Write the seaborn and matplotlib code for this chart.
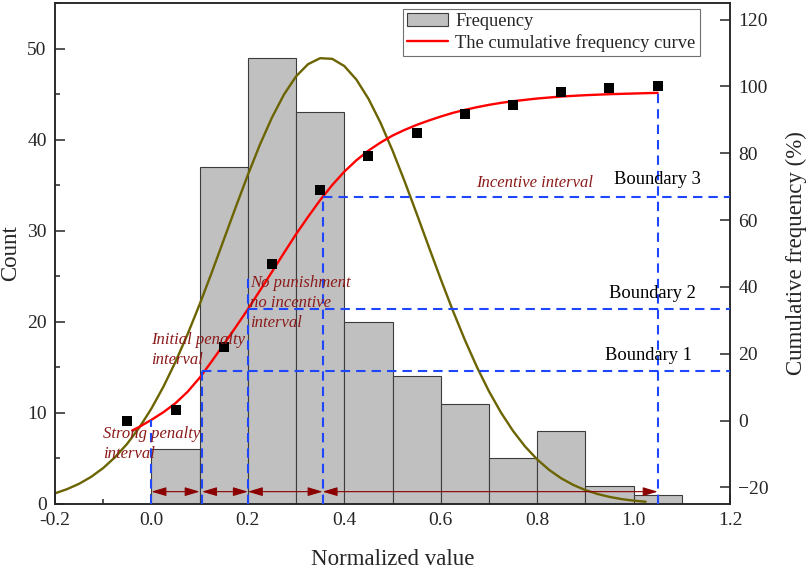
import numpy as np
import pandas as pd
import matplotlib
matplotlib.use("Agg")
import matplotlib.pyplot as plt
import seaborn as sns
from matplotlib.ticker import MultipleLocator, FuncFormatter, FormatStrFormatter
from matplotlib.patches import Patch
from matplotlib.lines import Line2D

# ---------------- data ----------------
bin_edges = [0.0, 0.1, 0.2, 0.3, 0.4, 0.5, 0.6, 0.7, 0.8, 0.9, 1.0, 1.1]
bin_centers = [0.05, 0.15, 0.25, 0.35, 0.45, 0.55, 0.65, 0.75, 0.85, 0.95, 1.05]
counts = [6, 37, 49, 43, 20, 14, 11, 5, 8, 2, 1]

cum_x = [-0.05, 0.05, 0.15, 0.25, 0.35, 0.45, 0.55, 0.65, 0.75, 0.85, 0.95, 1.05]
cum_pct = [0.0, 3.0, 21.9, 46.9, 68.9, 79.1, 86.2, 91.8, 94.4, 98.5, 99.5, 100.0]

# cumulative frequency curve (right axis %)
curve_x = [-0.04, -0.025, 0.0, 0.025, 0.05, 0.075, 0.1, 0.125, 0.15, 0.175, 0.2,
           0.225, 0.25, 0.275, 0.3, 0.325, 0.35, 0.375, 0.4, 0.425, 0.45, 0.475,
           0.5, 0.525, 0.55, 0.575, 0.6, 0.625, 0.65, 0.675, 0.7, 0.725, 0.75,
           0.775, 0.8, 0.825, 0.85, 0.875, 0.9, 0.925, 0.95, 0.975, 1.0, 1.025, 1.05]
curve_pct = [-3.0, -1.9, 0.2, 2.5, 5.2, 8.6, 12.8, 17.7, 22.8, 28.0, 33.3,
             38.9, 44.5, 50.2, 55.8, 61.0, 66.0, 70.5, 74.5, 77.9, 80.8, 83.2,
             85.3, 87.0, 88.5, 89.8, 91.0, 92.1, 93.0, 93.8, 94.5, 95.1, 95.6,
             96.0, 96.4, 96.7, 97.0, 97.2, 97.4, 97.55, 97.7, 97.8, 97.9, 98.0, 98.1]

# distribution curve (left axis counts)
normal_x = [-0.2, -0.175, -0.15, -0.125, -0.1, -0.075, -0.05, -0.025, 0.0, 0.025,
            0.05, 0.075, 0.1, 0.125, 0.15, 0.175, 0.2, 0.225, 0.25, 0.275, 0.3,
            0.325, 0.35, 0.375, 0.4, 0.425, 0.45, 0.475, 0.5, 0.525, 0.55, 0.575,
            0.6, 0.625, 0.65, 0.675, 0.7, 0.725, 0.75, 0.775, 0.8, 0.825, 0.85,
            0.875, 0.9, 0.925, 0.95, 0.975, 1.0, 1.025]
normal_count = [1.17, 1.63, 2.22, 2.98, 3.95, 5.16, 6.63, 8.40, 10.48, 12.89,
                15.62, 18.64, 21.92, 25.40, 29.00, 32.61, 36.13, 39.45, 42.43, 44.96,
                46.95, 48.29, 48.94, 48.87, 48.08, 46.60, 44.50, 41.87, 38.81, 35.44,
                31.89, 28.27, 24.69, 21.25, 18.02, 15.05, 12.38, 10.04, 8.02, 6.31,
                4.90, 3.74, 2.82, 2.09, 1.53, 1.10, 0.78, 0.54, 0.37, 0.25]

boundary_x = [0.0, 0.105, 0.2, 0.355, 1.05]
boundary_pct = [14.9, 33.3, 67.0]
boundary_labels = ["Boundary 1", "Boundary 2", "Boundary 3"]
vline_top_pct = [0.2, 14.9, 44.0, 67.0, 98.1]
interval_labels = ["Strong penalty\ninterval", "Initial penalty\ninterval",
                   "No punishment\nno incentive\ninterval", "Incentive interval"]

# ---------------- style ----------------
sns.set_style("ticks")
plt.rcParams["font.family"] = ["Liberation Serif", "DejaVu Serif"]
plt.rcParams["axes.unicode_minus"] = False
plt.rcParams["axes.linewidth"] = 1.1

SERIF = ["Liberation Serif", "DejaVu Serif"]
BLUE = "#1f46ff"
DARKRED = "#8b1a1a"
OLIVE = "#6b6400"

fig = plt.figure(figsize=(8.09, 5.70), dpi=100)
ax = fig.add_axes([55 / 809, 66 / 570, 675 / 809, 501 / 570])

# histogram (left axis)
sns.histplot(x=bin_centers, weights=counts, bins=bin_edges, ax=ax,
             color="#c0c0c0", edgecolor="#3c3c3c", linewidth=0.8, alpha=1.0)
# distribution curve (left axis)
sns.lineplot(x=normal_x, y=normal_count, ax=ax, color=OLIVE, lw=1.7)

ax.set_xlim(-0.2, 1.2)
ax.set_ylim(0, 55)
ax.xaxis.set_major_locator(MultipleLocator(0.2))
ax.xaxis.set_minor_locator(MultipleLocator(0.1))
ax.xaxis.set_major_formatter(FormatStrFormatter("%.1f"))
ax.yaxis.set_major_locator(MultipleLocator(10))
ax.yaxis.set_minor_locator(MultipleLocator(5))
ax.tick_params(axis="both", which="major", direction="in", length=7, width=1.1,
               labelsize=14, pad=6)
ax.tick_params(axis="both", which="minor", direction="in", length=3.5, width=1.1)
ax.tick_params(axis="y", which="both", right=False)
ax.tick_params(axis="x", which="both", top=False)
ax.set_xlabel("Normalized value", fontsize=16.5, labelpad=14)
ax.set_ylabel("Count", fontsize=16.5, labelpad=4)

# right axis
ax2 = ax.twinx()
ax2.set_ylim(-25, 125)
sns.lineplot(x=curve_x, y=curve_pct, ax=ax2, color="#ff0000", lw=1.7, legend=False)
sns.scatterplot(x=cum_x, y=cum_pct, ax=ax2, marker="s", s=60, color="black",
                edgecolor="black", linewidth=0, zorder=5, legend=False)
ax2.yaxis.set_major_locator(MultipleLocator(20))
ax2.yaxis.set_major_formatter(FuncFormatter(lambda v, p: f"{int(v)}".replace("-", "\u2212")))
ax2.tick_params(axis="y", which="major", direction="in", length=7, width=1.1,
                labelsize=14, pad=6)
ax2.set_ylabel("Cumulative frequency (%)", fontsize=16.5, labelpad=12)
for sp in ax2.spines.values():
    sp.set_linewidth(1.1)

# dashed boundary lines
dash = dict(color=BLUE, lw=1.5, ls=(0, (4.5, 2.9)), zorder=4)
for bx, top in zip(boundary_x, vline_top_pct):
    ax2.plot([bx, bx], [-25, top], **dash)
for bx, p in zip(boundary_x[1:4], boundary_pct):
    ax2.plot([bx, 1.2], [p, p], **dash)

# boundary labels
b_pos = [(1.031, 19.5), (1.039, 38.1), (1.05, 72.2)]
for (tx, ty), lab in zip(b_pos, boundary_labels):
    ax2.text(tx, ty, lab, ha="center", va="center", fontsize=13.3, color="black",
             family=SERIF, zorder=6)

# interval labels (italic, dark red)
t_pos = [(-0.101, -7.0), (0.0, 21.1), (0.2045, 35.2), (0.673, 71.0)]
for (tx, ty), lab in zip(t_pos, interval_labels):
    ax2.text(tx, ty, lab, ha="left", va="center", fontsize=12, color=DARKRED,
             style="italic", family=SERIF, linespacing=1.3, zorder=6)

# double-headed arrows along the bottom
arrow_y = -21.3
for x0, x1 in [(boundary_x[0], 0.1), (boundary_x[1], boundary_x[2]),
               (boundary_x[2], boundary_x[3]), (boundary_x[3], boundary_x[4])]:
    ax2.annotate("", xy=(x1, arrow_y), xytext=(x0, arrow_y),
                 arrowprops=dict(arrowstyle="<|-|>,head_length=0.5,head_width=0.15",
                                 color="#8b0000", lw=0.8, mutation_scale=18,
                                 shrinkA=0, shrinkB=0), zorder=6)

# legend
handles = [Patch(facecolor="#c0c0c0", edgecolor="#3c3c3c", linewidth=0.8),
           Line2D([0], [0], color="#ff0000", lw=1.7)]
leg = ax2.legend(handles, ["Frequency", "The cumulative frequency curve"],
                 loc="upper right", bbox_to_anchor=(0.9556, 0.989), borderaxespad=0,
                 fontsize=13.3, frameon=True, fancybox=False, framealpha=1,
                 edgecolor="#707070", handlelength=2.2, labelspacing=0.2,
                 borderpad=0.25, handletextpad=0.4)
leg.get_frame().set_linewidth(0.8)

fig.savefig("out.png", dpi=100)
